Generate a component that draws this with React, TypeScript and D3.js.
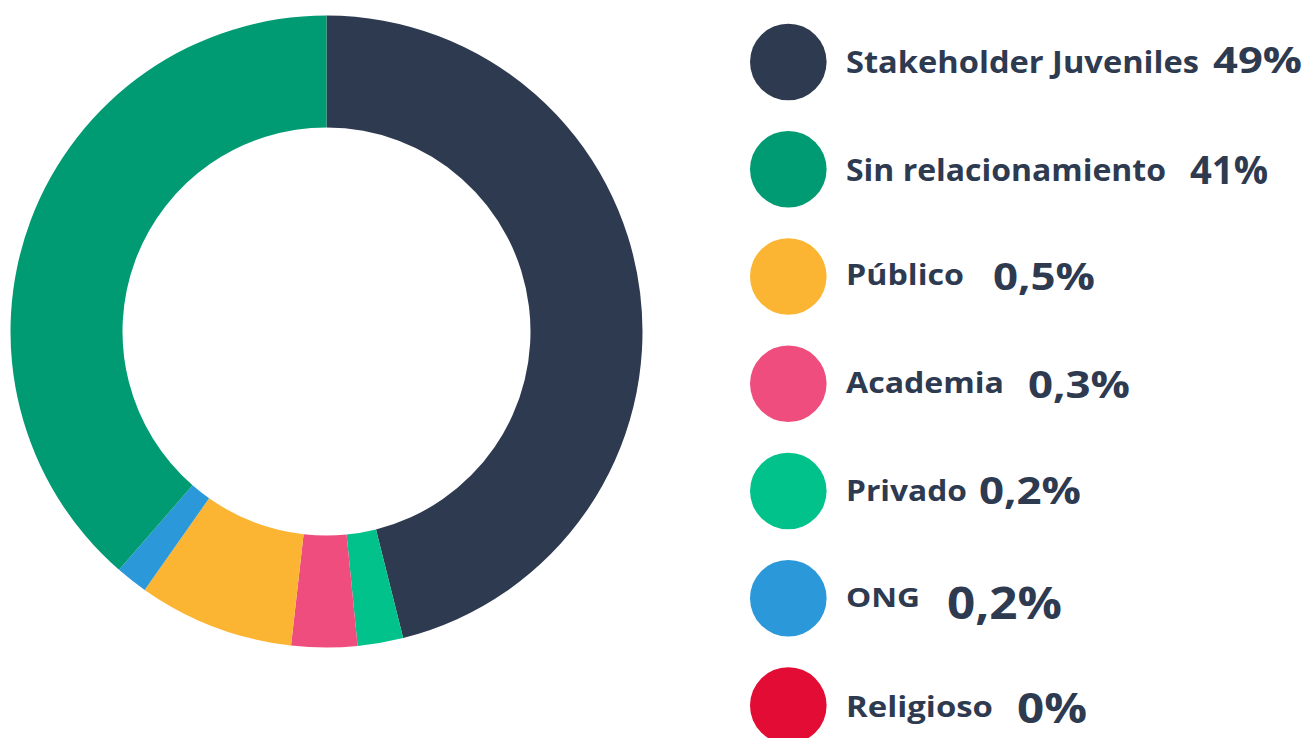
import React from "react";
import * as d3 from "d3";

// Legend order
const categories = [
  "Stakeholder Juveniles",
  "Sin relacionamiento",
  "Público",
  "Academia",
  "Privado",
  "ONG",
  "Religioso",
];
const percentLabels = ["49%", "41%", "0,5%", "0,3%", "0,2%", "0,2%", "0%"];
const sliceShares = [46.1, 38.6, 7.97, 3.36, 2.33, 1.64, 0];
const colors = ["#2e3a50", "#009b72", "#fbb532", "#ef4d7d", "#00c28a", "#2b98d9", "#e30c34"];
// Order the slices run clockwise from 12 o'clock
const sliceOrder = [
  "Stakeholder Juveniles",
  "Privado",
  "Academia",
  "Público",
  "ONG",
  "Religioso",
  "Sin relacionamiento",
];

// Layout (styles) per legend row
const labelSize = [30, 30, 28.5, 28.5, 28.5, 27, 28.5];
const labelDy = [10.7, 12, 8.8, 9.7, 9.8, 8.8, 11.4];
const labelWidth = [353, 320, 118, 158, 121, 74, 147];
const pctX = [1213, 1190, 993, 1028, 979, 947, 1017];
const pctSize = [35.5, 39, 37, 37, 37, 44, 42];
const pctDy = [11.3, 14.5, 13.8, 14, 12.5, 20.5, 17.7];
const pctWidth = [89, 78, 102, 102, 102, 115, 70];

const TEXT = "#2e3a50";
const FONT = "'Open Sans', Lato, sans-serif";

export default function App() {
  const W = 1305;
  const H = 738;
  const cx = 326.5;
  const cy = 331.5;
  const outerR = 316;
  const innerR = 204;

  const table = sliceOrder.map((name) => {
    const i = categories.indexOf(name);
    return { name, value: sliceShares[i], color: colors[i] };
  });

  const pie = d3
    .pie<{ name: string; value: number; color: string }>()
    .sort(null)
    .value((d) => d.value);
  const arcs = pie(table);
  const arcGen = d3
    .arc<d3.PieArcDatum<{ name: string; value: number; color: string }>>()
    .innerRadius(innerR)
    .outerRadius(outerR);

  const rowY = d3
    .scaleLinear()
    .domain([0, categories.length - 1])
    .range([62, 705.5]);

  return (
    <svg
      width={W}
      height={H}
      style={{ position: "absolute", left: 0, top: 0, background: "#ffffff" }}
    >
      <g transform={`translate(${cx},${cy})`}>
        {arcs
          .filter((a) => a.value > 0)
          .map((a) => (
            <path key={a.data.name} d={arcGen(a) || ""} fill={a.data.color} />
          ))}
      </g>
      {categories.map((c, i) => {
        const y = rowY(i);
        return (
          <g key={c}>
            <circle cx={788.3} cy={y} r={38.3} fill={colors[i]} />
            <text
              x={846}
              y={y + labelDy[i]}
              fontFamily={FONT}
              fontWeight={700}
              fontSize={labelSize[i]}
              fill={TEXT}
              textLength={labelWidth[i]}
              lengthAdjust="spacingAndGlyphs"
            >
              {c}
            </text>
            <text
              x={pctX[i]}
              y={y + pctDy[i]}
              fontFamily={FONT}
              fontWeight={700}
              fontSize={pctSize[i]}
              fill={TEXT}
              textLength={pctWidth[i]}
              lengthAdjust="spacingAndGlyphs"
            >
              {percentLabels[i]}
            </text>
          </g>
        );
      })}
    </svg>
  );
}
